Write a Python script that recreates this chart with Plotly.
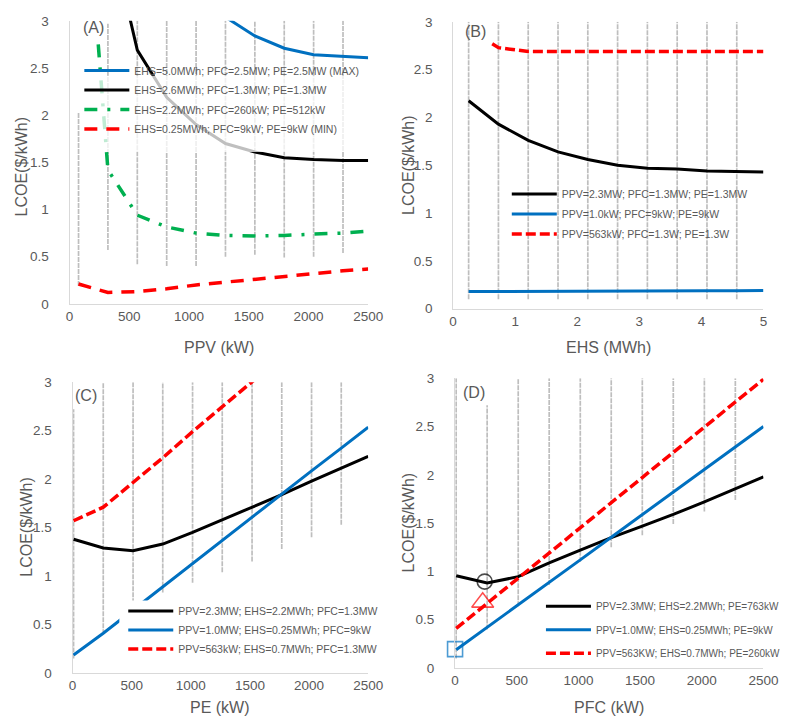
import plotly.graph_objects as go

W, H = 789, 718
def xp(px): return px / W
def yp(py): return 1 - py / H

GRAY_TXT = "#595959"
AXLINE = "#D9D9D9"
BLUE, BLACK, GREEN, RED = "#0070C0", "#000000", "#00B050", "#FF0000"
FONT = "Liberation Sans, Arial, sans-serif"

# ---------------- Panel A : LCOE vs PPV ----------------
ppv_grid = [75, 321, 567, 813, 1059, 1305, 1551, 1797, 2043, 2289]
ppv_cloud_lo = [0.19, 0.57, 0.42, 0.40, 0.40, 0.50, 0.52, 0.49, 0.50, 0.54]
ppv_cloud_hi = [2.03, 2.97, 3.0, 3.0, 3.0, 3.0, 3.0, 3.0, 3.0, 3.0]

ppv_blue = [1059, 1305, 1551, 1797, 2043, 2289, 2500]
lcoe_a_blue = [3.45, 3.04, 2.84, 2.71, 2.64, 2.62, 2.61]
ppv_black = [321, 567, 813, 1059, 1305, 1551, 1797, 2043, 2289, 2500]
lcoe_a_black = [4.03, 2.69, 2.19, 1.90, 1.70, 1.61, 1.55, 1.53, 1.52, 1.52]
ppv_green = [240, 321, 567, 813, 1059, 1305, 1551, 1797, 2043, 2289, 2500]
lcoe_a_green = [2.75, 1.42, 0.94, 0.815, 0.75, 0.725, 0.72, 0.725, 0.74, 0.75, 0.77]
ppv_red = [75, 321, 567, 813, 1059, 1305, 1551, 1797, 2043, 2289, 2500]
lcoe_a_red = [0.21, 0.12, 0.13, 0.16, 0.20, 0.23, 0.26, 0.295, 0.32, 0.35, 0.37]
names_a = ["EHS=5.0MWh; PFC=2.5MW; PE=2.5MW (MAX)",
           "EHS=2.6MWh; PFC=1.3MW; PE=1.3MW",
           "EHS=2.2MWh; PFC=260kW; PE=512kW",
           "EHS=0.25MWh; PFC=9kW; PE=9kW (MIN)"]

# ---------------- Panel B : LCOE vs EHS ----------------
ehs_grid = [0.25, 0.73, 1.21, 1.69, 2.17, 2.65, 3.13, 3.61, 4.09, 4.57]
ehs_cloud_lo = [0.10, 0.10, 0.10, 0.10, 0.10, 0.10, 0.10, 0.10, 0.10, 0.10]
ehs_cloud_hi = [3.0, 3.0, 3.0, 3.0, 3.0, 3.0, 3.0, 3.0, 3.0, 3.0]
ehs = [0.25, 0.73, 1.21, 1.69, 2.17, 2.65, 3.13, 3.61, 4.09, 4.57, 5.0]
lcoe_b_black = [2.175, 1.93, 1.76, 1.64, 1.56, 1.50, 1.47, 1.46, 1.44, 1.435, 1.43]
lcoe_b_blue = [0.18, 0.18, 0.18, 0.182, 0.183, 0.184, 0.185, 0.186, 0.187, 0.188, 0.19]
ehs_red = [0.63, 0.73, 1.21, 1.69, 2.17, 2.65, 3.13, 3.61, 4.09, 4.57, 5.0]
lcoe_b_red = [2.77, 2.73, 2.69, 2.69, 2.69, 2.69, 2.69, 2.69, 2.69, 2.69, 2.69]
names_b = ["PPV=2.3MW; PFC=1.3MW; PE=1.3MW",
           "PPV=1.0kW; PFC=9kW; PE=9kW",
           "PPV=563kW; PFC=1.3W; PE=1.3W"]

# ---------------- Panel C : LCOE vs PE ----------------
pe_grid = [9, 260, 512, 763, 1015, 1266, 1518, 1769, 2021, 2272]
pe_cloud_lo = [0.15, 0.40, 0.72, 0.83, 0.93, 1.04, 1.15, 1.28, 1.40, 1.53]
pe_cloud_hi = [2.72, 3.0, 3.0, 3.0, 3.0, 3.0, 3.0, 3.0, 3.0, 3.0]
pe = [9, 260, 512, 763, 1015, 1266, 1518, 1769, 2021, 2272, 2500]
lcoe_c_black = [1.38, 1.29, 1.26, 1.33, 1.45, 1.58, 1.71, 1.84, 1.98, 2.11, 2.235]
lcoe_c_blue = [0.185, 0.41, 0.65, 0.89, 1.13, 1.37, 1.61, 1.845, 2.085, 2.32, 2.535]
pe_red = [9, 260, 512, 763, 1015, 1266, 1518, 1769]
lcoe_c_red = [1.57, 1.71, 1.965, 2.22, 2.49, 2.75, 3.0, 3.26]
names_c = ["PPV=2.3MW; EHS=2.2MWh; PFC=1.3MW",
           "PPV=1.0MW; EHS=0.25MWh; PFC=9kW",
           "PPV=563kW; EHS=0.7MWh; PFC=1.3MW"]

# ---------------- Panel D : LCOE vs PFC ----------------
pfc_grid = [9, 260, 512, 763, 1015, 1266, 1518, 1769, 2021, 2272]
pfc_cloud_lo = [0.10, 0.40, 0.64, 0.86, 1.10, 1.25, 1.375, 1.49, 1.62, 1.74]
pfc_cloud_hi = [3.0, 2.72, 3.0, 3.0, 3.0, 3.0, 3.0, 3.0, 3.0, 3.0]
pfc = [9, 260, 512, 763, 1015, 1266, 1518, 1769, 2021, 2272, 2500]
lcoe_d_black = [0.956, 0.88, 0.946, 1.09, 1.22, 1.35, 1.47, 1.59, 1.72, 1.86, 1.98]
lcoe_d_blue = [0.19, 0.42, 0.656, 0.89, 1.12, 1.355, 1.59, 1.82, 2.055, 2.29, 2.50]
lcoe_d_red = [0.41, 0.67, 0.93, 1.19, 1.45, 1.715, 1.975, 2.235, 2.495, 2.755, 2.99]
names_d = ["PPV=2.3MW; EHS=2.2MWh; PE=763kW",
           "PPV=1.0MW; EHS=0.25MWh; PE=9kW",
           "PPV=563KW; EHS=0.7MWh; PE=260kW"]
# optimum markers
opt_pfc = [240, 224, 0]
opt_lcoe = [0.895, 0.68, 0.196]

y_ticks = [0, 0.5, 1, 1.5, 2, 2.5, 3]

fig = go.Figure()

def cloud(xs, lo, hi, xa, ya):
    X, Y = [], []
    for x, a, b in zip(xs, lo, hi):
        X += [x, x, None]
        Y += [a, b, None]
    fig.add_trace(go.Scatter(x=X, y=Y, mode="lines", xaxis=xa, yaxis=ya,
                             line=dict(color="#BEBEBE", width=1.7, dash="5px,1px"),
                             showlegend=False, hoverinfo="skip"))

def curve(x, y, name, color, dash, width, xa, ya, leg, grp):
    fig.add_trace(go.Scatter(x=x, y=y, mode="lines", name=name, xaxis=xa, yaxis=ya,
                             line=dict(color=color, dash=dash, width=width),
                             legend=leg, legendgroup=grp))

LONGDASH = "13px,9px"
DASHDOT = "13px,10px,3px,10px"
SHORTDASH = "10px,4px"

cloud(ppv_grid, ppv_cloud_lo, ppv_cloud_hi, "x", "y")
curve(ppv_blue, lcoe_a_blue, names_a[0], BLUE, "solid", 3, "x", "y", "legend", "a1")
curve(ppv_black, lcoe_a_black, names_a[1], BLACK, "solid", 3, "x", "y", "legend", "a2")
curve(ppv_green, lcoe_a_green, names_a[2], GREEN, DASHDOT, 3.5, "x", "y", "legend", "a3")
curve(ppv_red, lcoe_a_red, names_a[3], RED, LONGDASH, 3.5, "x", "y", "legend", "a4")

cloud(ehs_grid, ehs_cloud_lo, ehs_cloud_hi, "x2", "y2")
curve(ehs, lcoe_b_black, names_b[0], BLACK, "solid", 3, "x2", "y2", "legend2", "b1")
curve(ehs, lcoe_b_blue, names_b[1], BLUE, "solid", 3, "x2", "y2", "legend2", "b2")
curve(ehs_red, lcoe_b_red, names_b[2], RED, SHORTDASH, 3.5, "x2", "y2", "legend2", "b3")

cloud(pe_grid, pe_cloud_lo, pe_cloud_hi, "x3", "y3")
curve(pe, lcoe_c_black, names_c[0], BLACK, "solid", 3, "x3", "y3", "legend3", "c1")
curve(pe, lcoe_c_blue, names_c[1], BLUE, "solid", 3, "x3", "y3", "legend3", "c2")
curve(pe_red, lcoe_c_red, names_c[2], RED, SHORTDASH, 3.5, "x3", "y3", "legend3", "c3")

cloud(pfc_grid, pfc_cloud_lo, pfc_cloud_hi, "x4", "y4")
curve(pfc, lcoe_d_black, names_d[0], BLACK, "solid", 3, "x4", "y4", "legend4", "d1")
curve(pfc, lcoe_d_blue, names_d[1], BLUE, "solid", 3, "x4", "y4", "legend4", "d2")
curve(pfc, lcoe_d_red, names_d[2], RED, SHORTDASH, 3.5, "x4", "y4", "legend4", "d3")

fig.add_trace(go.Scatter(x=opt_pfc, y=opt_lcoe, mode="markers", xaxis="x4", yaxis="y4",
                         marker=dict(symbol=["circle-open", "triangle-up-open", "square-open"],
                                     size=[15, 19, 15], color=[BLACK, RED, BLUE],
                                     line=dict(width=1.6, color=[BLACK, RED, BLUE])),
                         cliponaxis=False, showlegend=False, hoverinfo="skip"))

tickfont = dict(family=FONT, size=13.5, color=GRAY_TXT)

def xaxis(dom, rng, dtick, anchor):
    return dict(domain=dom, range=rng, dtick=dtick, anchor=anchor, showgrid=False,
                zeroline=False, showline=True, linecolor=AXLINE, linewidth=1,
                ticks="", tickfont=tickfont, ticklabelstandoff=0)

def yaxis(dom, anchor):
    return dict(domain=dom, range=[0, 3], tickvals=y_ticks, anchor=anchor, showgrid=False,
                zeroline=False, showline=True, linecolor=AXLINE, linewidth=1,
                ticks="", tickfont=tickfont, ticklabelstandoff=17)

def legend(xpx, ypx, gap, size=10.5):
    return dict(x=xp(xpx), y=yp(ypx), xanchor="left", yanchor="top",
                bgcolor="rgba(255,255,255,0)", borderwidth=0,
                font=dict(family=FONT, size=size, color=GRAY_TXT),
                itemwidth=45, tracegroupgap=gap, traceorder="grouped")

fig.update_layout(
    width=W, height=H, margin=dict(l=0, r=0, t=0, b=0),
    paper_bgcolor="white", plot_bgcolor="white",
    xaxis=xaxis([xp(59), xp(365)], [0, 2500], 500, "y"),
    yaxis=yaxis([yp(295), yp(6)], "x"),
    xaxis2=xaxis([xp(452), xp(770)], [0, 5], 1, "y2"),
    yaxis2=yaxis([yp(300), yp(7)], "x2"),
    xaxis3=xaxis([xp(62), xp(365)], [0, 2500], 500, "y3"),
    yaxis3=yaxis([yp(672), yp(375)], "x3"),
    xaxis4=xaxis([xp(454), xp(770)], [0, 2500], 500, "y4"),
    yaxis4=yaxis([yp(667), yp(371)], "x4"),
    legend=legend(69, 42, 0.5),
    legend2=legend(507, 168, 1),
    legend3=legend(114, 594, 0),
    legend4=legend(542, 589, 4.5, 10),
    showlegend=True,
)

# semi-transparent box behind legend of panel A, opaque box behind legend of panel C
fig.add_shape(type="rect", xref="paper", yref="paper", x0=xp(80), x1=xp(362),
              y0=yp(140), y1=yp(62), fillcolor="rgba(255,255,255,0.75)", line_width=0,
              layer="above")
fig.add_shape(type="rect", xref="paper", yref="paper", x0=xp(110), x1=xp(364),
              y0=yp(660), y1=yp(598), fillcolor="white", line_width=0, layer="above")

ann = []
titlefont = dict(family=FONT, size=16, color=GRAY_TXT)
for txt, x, y in [("PPV (kW)", 212, 340), ("EHS (MWh)", 611, 340),
                  ("PE (kW)", 213, 707), ("PFC (kW)", 612, 707)]:
    ann.append(dict(text=txt, x=xp(x), y=yp(y), xref="paper", yref="paper",
                    showarrow=False, font=titlefont, xanchor="center", yanchor="middle"))
for x, y in [(10, 155), (407, 153), (14, 523), (406, 518)]:
    ann.append(dict(text="LCOE($/kWh)", x=xp(x), y=yp(y), xref="paper", yref="paper",
                    showarrow=False, font=titlefont, textangle=-90,
                    xanchor="center", yanchor="middle"))
for txt, x, y in [("(A)", 84, 13), ("(B)", 475, 17), ("(C)", 76, 389), ("(D)", 473, 386)]:
    ann.append(dict(text=txt, x=xp(x), y=yp(y), xref="paper", yref="paper",
                    showarrow=False, font=dict(family=FONT, size=16, color=GRAY_TXT),
                    xanchor="center", yanchor="middle"))
fig.update_layout(annotations=ann)

fig.write_html("out.html")
